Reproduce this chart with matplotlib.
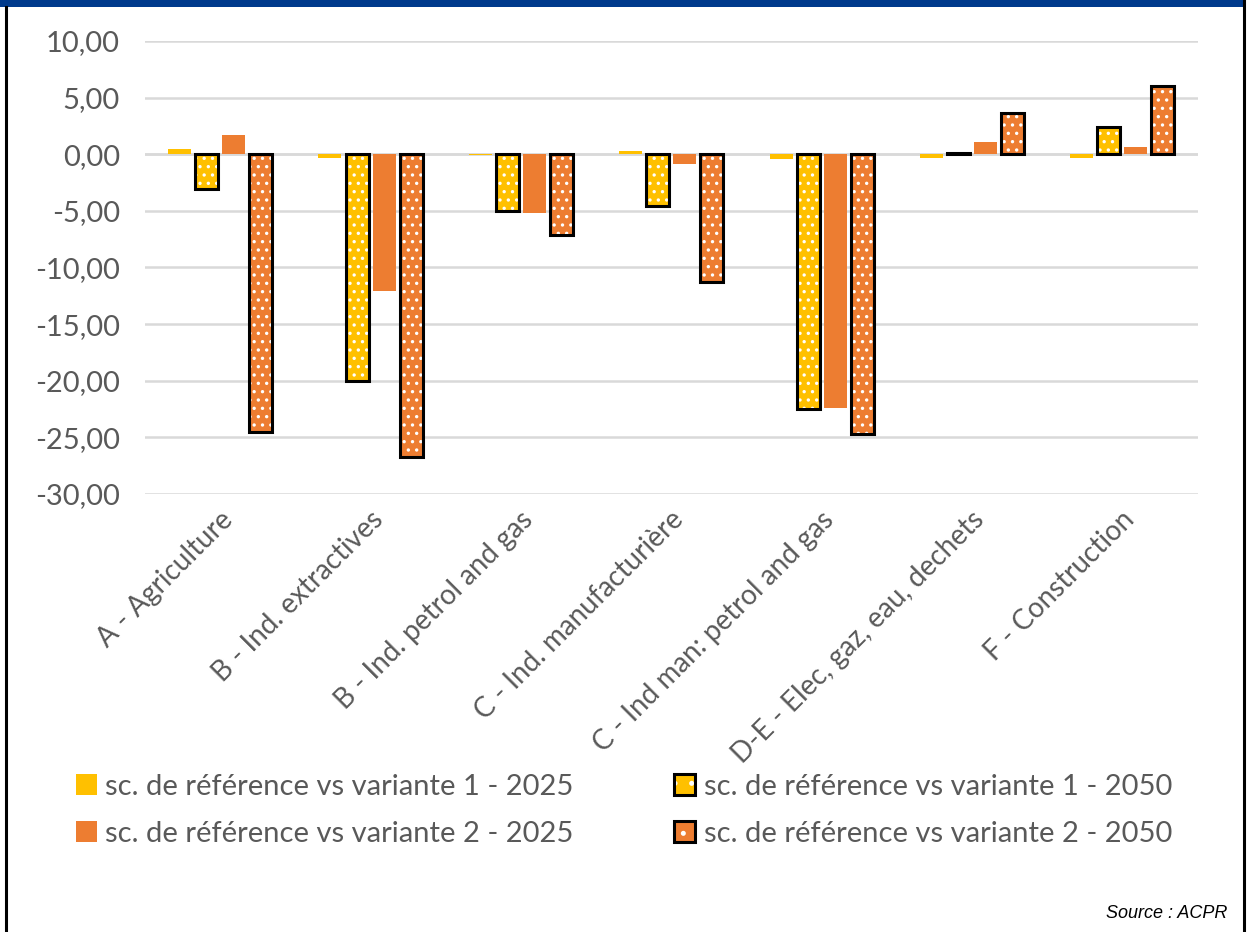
import numpy as np
import matplotlib.pyplot as plt
from matplotlib.patches import Rectangle
from matplotlib.ticker import FuncFormatter
import matplotlib.transforms as mtransforms

# === Data ===
categories = [
    "A - Agriculture",
    "B - Ind. extractives",
    "B - Ind. petrol and gas",
    "C - Ind. manufacturière",
    "C - Ind man: petrol and gas",
    "D-E - Elec, gaz, eau, dechets",
    "F - Construction",
]
v1_2025 = [0.5, -0.3, -0.1, 0.3, -0.4, -0.3, -0.3]
v1_2050 = [-3.1, -20.0, -5.0, -4.6, -22.5, 0.1, 2.4]
v2_2025 = [1.7, -12.1, -5.2, -0.9, -22.4, 1.1, 0.6]
v2_2050 = [-24.5, -26.7, -7.1, -11.3, -24.7, 3.6, 6.0]

labels = [
    "sc. de référence vs variante 1 - 2025",
    "sc. de référence vs variante 1 - 2050",
    "sc. de référence vs variante 2 - 2025",
    "sc. de référence vs variante 2 - 2050",
]

yellow = "#FFC000"
orange = "#ED7D31"
txt = "#595959"

plt.rcParams['font.family'] = ['Lato', 'DejaVu Sans']
plt.rcParams['hatch.linewidth'] = 1.2

fig = plt.figure(figsize=(12.5, 9.32), dpi=100)
ax = fig.add_axes([0.116, 0.470, 0.842, 0.486])

x = np.arange(len(categories))
pitch = 0.18
width = 0.153
series = [
    (v1_2025, yellow, False),
    (v1_2050, yellow, True),
    (v2_2025, orange, False),
    (v2_2050, orange, True),
]

for i, (vals, col, dotted) in enumerate(series):
    pos = x + (i - 1.5) * pitch
    if dotted:
        # white dot pattern, then black outline on top
        ax.bar(pos, vals, width, color=col, edgecolor="white", linewidth=0,
               hatch="..", zorder=3)
        ax.bar(pos, vals, width, fill=False, edgecolor="black", linewidth=2.2,
               zorder=4)
    else:
        ax.bar(pos, vals, width, color=col, linewidth=0, zorder=3)

ax.set_xlim(-0.5, len(categories) - 0.5)
ax.set_ylim(-30, 10)
ax.set_yticks(np.arange(-30, 11, 5))
ax.yaxis.set_major_formatter(FuncFormatter(lambda v, p: f"{v:.2f}".replace(".", ",")))
ax.grid(axis="y", color="#D9D9D9", linewidth=1.8, zorder=0)
ax.axhline(0, color="#D9D9D9", linewidth=1.8, zorder=1)
for s in ax.spines.values():
    s.set_visible(False)
ax.tick_params(axis="both", length=0, colors=txt)
ax.tick_params(axis="y", pad=18, labelsize=21)
ax.tick_params(axis="x", pad=9, labelsize=20)

ax.set_xticks(x)
ax.set_xticklabels(categories, rotation=45, ha="right", rotation_mode="anchor")
offset = mtransforms.ScaledTranslation(-0.01, 0.0, fig.dpi_scale_trans)
for lab in ax.get_xticklabels():
    lab.set_transform(lab.get_transform() + offset)

# === Legend ===
def dotted_handle(col):
    fill = Rectangle((0, 0), 1, 1, facecolor=col, edgecolor="white", linewidth=0, hatch=".")
    edge = Rectangle((0, 0), 1, 1, fill=False, edgecolor="black", linewidth=2.2)
    return (fill, edge)

handles = [
    Rectangle((0, 0), 1, 1, facecolor=yellow, linewidth=0),
    Rectangle((0, 0), 1, 1, facecolor=orange, linewidth=0),
    dotted_handle(yellow),
    dotted_handle(orange),
]
leg_labels = [labels[0], labels[2], labels[1], labels[3]]
leg = fig.legend(handles, leg_labels, ncol=2, loc="upper left",
                 bbox_to_anchor=(0.040, 0.198), frameon=False, fontsize=21,
                 handlelength=0.7, handleheight=0.7, handletextpad=0.3,
                 columnspacing=3.45, labelspacing=0.72)
for t in leg.get_texts():
    t.set_color(txt)

fig.text(0.982, 0.011, "Source : ACPR", ha="right", va="bottom",
         fontsize=13, style="italic", family="Liberation Sans", color="black")

# === Frame: blue band on top, black side lines ===
fig.patches.append(Rectangle((0, 0.9925), 0.995, 0.0075, transform=fig.transFigure,
                             facecolor="#003A8C", edgecolor="none"))
fig.add_artist(plt.Line2D([0.0048, 0.0048], [0, 0.9925], color="black",
                          linewidth=2.2, transform=fig.transFigure))
fig.add_artist(plt.Line2D([0.9955, 0.9955], [0, 1.0], color="black",
                          linewidth=2.2, transform=fig.transFigure))

fig.savefig("out.png", dpi=100)
